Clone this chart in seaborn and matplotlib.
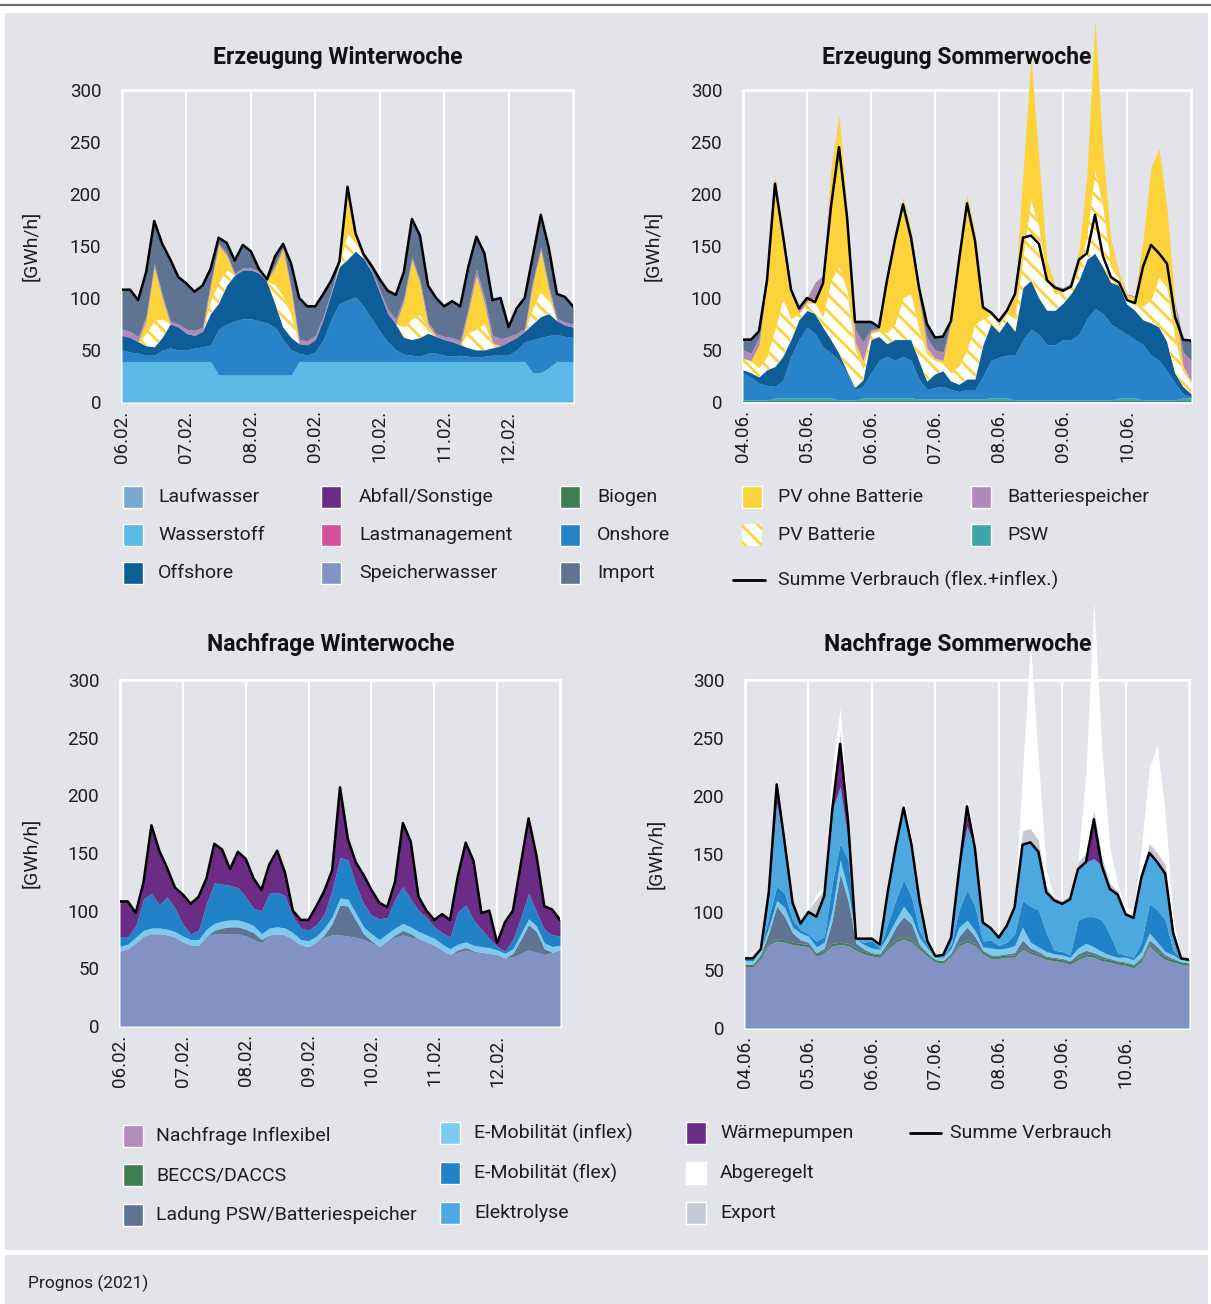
import numpy as np
import pandas as pd
import matplotlib.pyplot as plt
import matplotlib.dates as mdates
from matplotlib.patches import Rectangle
from matplotlib.lines import Line2D
import seaborn as sns

W, H = 1211, 1304

# 3-hourly values in GWh/h (one week per chart)
winter_time = pd.date_range('2021-02-06', periods=57, freq='3h')
summer_time = pd.date_range('2021-06-04', periods=57, freq='3h')

# Summe Verbrauch (same series in generation and demand charts)
winter_total = [108, 108, 98, 125, 174, 152, 137, 120, 114, 106, 112, 128, 158, 153, 136, 151, 145, 128, 118, 140,
                152, 133, 100, 92, 92, 104, 117, 135, 207, 162, 142, 131, 118, 107, 103, 125, 176, 160, 112, 100,
                92, 97, 92, 130, 159, 143, 98, 100, 72, 90, 100, 140, 180, 148, 104, 101, 92]
summer_total = [60, 60, 68, 117, 210, 160, 108, 90, 100, 96, 114, 188, 245, 178, 77, 77, 77, 72, 117, 156,
                190, 158, 110, 75, 62, 63, 78, 136, 191, 155, 91, 86, 78, 88, 104, 158, 160, 152, 117, 110,
                107, 111, 137, 143, 180, 140, 120, 115, 98, 95, 130, 151, 143, 133, 82, 60, 59]

# Erzeugung Winterwoche
w_wasserstoff = [39, 39, 39, 39, 39, 39, 39, 39, 39, 39, 39, 39, 26, 26, 26, 26, 26, 26, 26, 26,
                 26, 26, 39, 39, 39, 39, 39, 39, 39, 39, 39, 39, 39, 39, 39, 39, 39, 39, 39, 39,
                 39, 39, 39, 39, 39, 39, 39, 39, 39, 39, 39, 28, 28, 33, 39, 39, 39]
w_onshore = [11, 9, 8, 6, 6, 11, 13, 11, 11, 13, 14, 16, 44, 49, 52, 54, 54, 52, 50, 46,
             34, 24, 8, 6, 9, 21, 41, 56, 59, 62, 53, 41, 29, 19, 11, 7, 6, 5, 8, 8,
             6, 5, 6, 5, 4, 5, 6, 6, 6, 11, 19, 32, 34, 31, 26, 24, 23]
w_offshore = [14, 14, 11, 9, 8, 12, 23, 22, 16, 12, 15, 30, 25, 37, 44, 47, 47, 46, 40, 23,
              12, 12, 9, 10, 12, 20, 25, 35, 39, 44, 46, 45, 37, 27, 25, 16, 15, 18, 19, 16,
              15, 14, 10, 8, 7, 6, 7, 9, 13, 12, 10, 15, 20, 21, 13, 11, 10]
w_pv_batt = [0, 0, 0, 12, 25, 18, 0, 0, 0, 0, 0, 12, 20, 15, 0, 0, 0, 0, 0, 18,
             30, 22, 0, 0, 0, 0, 0, 3, 25, 8, 0, 0, 0, 0, 0, 10, 20, 22, 5, 0,
             0, 0, 0, 15, 20, 25, 4, 0, 0, 0, 0, 15, 25, 15, 0, 0, 0]
w_pv = [0, 0, 0, 13, 52, 20, 0, 0, 0, 0, 0, 15, 36, 14, 0, 0, 0, 0, 0, 17,
        45, 23, 0, 0, 0, 0, 0, 0, 40, 7, 0, 0, 0, 0, 0, 25, 57, 30, 3, 0,
        0, 0, 0, 20, 52, 20, 1, 0, 0, 0, 0, 24, 39, 8, 0, 0, 0]
w_batt = [6, 6, 5, 4, 3, 3, 3, 3, 4, 5, 4, 3, 2, 2, 2, 2, 2, 2, 2, 2,
          3, 3, 4, 4, 4, 3, 2, 2, 2, 2, 2, 2, 3, 4, 5, 4, 3, 3, 3, 3,
          3, 4, 4, 5, 6, 6, 7, 7, 5, 4, 3, 3, 3, 3, 3, 3, 3]
w_import = [38, 40, 35, 42, 41, 49, 59, 45, 44, 37, 40, 13, 5, 10, 12, 22, 16, 2, 0, 8,
            2, 23, 40, 33, 28, 21, 10, 0, 3, 0, 2, 4, 10, 18, 23, 24, 36, 43, 35, 34,
            29, 35, 33, 38, 31, 42, 34, 39, 9, 24, 29, 23, 31, 37, 23, 24, 17]

# Erzeugung Sommerwoche
s_biogen = [1, 1, 1, 1, 1, 1, 1, 1, 1, 1, 1, 1, 1, 1, 1, 1, 1, 1, 1, 1,
            1, 1, 1, 1, 1, 1, 1, 1, 1, 1, 1, 1, 1, 1, 1, 1, 1, 1, 1, 1,
            1, 1, 1, 1, 1, 1, 1, 1, 1, 1, 1, 1, 1, 1, 1, 1, 1]
s_psw = [1, 1, 1, 1, 3, 3, 3, 3, 3, 3, 3, 3, 1, 1, 1, 3, 3, 3, 3, 3,
         3, 3, 2, 2, 2, 2, 2, 2, 2, 2, 2, 3, 3, 3, 1, 1, 1, 1, 1, 1,
         1, 1, 1, 1, 1, 1, 1, 3, 3, 3, 1, 1, 1, 1, 1, 3, 3]
s_onshore = [26, 22, 16, 14, 11, 17, 40, 56, 68, 62, 49, 43, 38, 26, 10, 11, 24, 36, 40, 36,
             40, 36, 19, 9, 11, 12, 9, 7, 9, 9, 22, 36, 39, 41, 43, 58, 68, 63, 53, 53,
             58, 58, 63, 78, 88, 83, 73, 66, 61, 56, 53, 43, 38, 28, 16, 4, 1]
s_offshore = [3, 4, 6, 15, 19, 23, 16, 19, 16, 19, 19, 13, 7, 2, 2, 6, 32, 23, 12, 20,
              16, 20, 18, 8, 13, 15, 8, 7, 10, 10, 30, 35, 24, 33, 23, 50, 47, 35, 33, 33,
              35, 44, 52, 57, 53, 45, 40, 42, 29, 28, 24, 31, 32, 28, 10, 7, 3]
s_pv_batt = [11, 11, 9, 13, 36, 56, 20, 6, 7, 10, 10, 57, 83, 78, 38, 11, 6, 5, 11, 15,
             40, 45, 30, 26, 13, 7, 8, 18, 28, 53, 25, 9, 7, 7, 12, 30, 77, 68, 29, 16,
             11, 6, 11, 23, 80, 58, 15, 6, 7, 8, 13, 22, 48, 52, 34, 15, 10]
s_pv = [0, 1, 22, 71, 148, 65, 28, 1, 2, 5, 36, 108, 146, 77, 6, 8, 2, 2, 52, 83,
        97, 60, 30, 6, 2, 3, 50, 103, 149, 87, 12, 2, 2, 2, 25, 80, 138, 64, 19, 7,
        2, 3, 17, 60, 145, 52, 26, 6, 2, 5, 64, 127, 124, 75, 33, 5, 2]
s_batt = [8, 7, 7, 0, 0, 0, 2, 3, 2, 15, 4, 0, 0, 0, 12, 18, 2, 1, 0, 0,
          0, 0, 0, 10, 8, 8, 0, 0, 0, 0, 1, 1, 1, 1, 0, 0, 0, 0, 0, 1,
          2, 1, 0, 0, 0, 0, 0, 0, 1, 1, 0, 0, 0, 0, 0, 13, 20]
s_import = [10, 13, 6, 2, 0, 0, 0, 1, 1, 0, 0, 0, 0, 0, 7, 19, 7, 1, 0, 0,
            0, 0, 10, 13, 12, 15, 0, 0, 0, 0, 0, 0, 1, 0, 0, 0, 0, 0, 0, 0,
            0, 0, 0, 0, 0, 0, 0, 0, 0, 0, 0, 0, 0, 0, 0, 12, 19]

# Nachfrage Winterwoche
wd_inflex = [65, 67, 72, 78, 80, 80, 79, 77, 73, 70, 70, 78, 80, 80, 80, 80, 78, 75, 72, 79,
             80, 79, 75, 70, 69, 73, 77, 79, 79, 78, 77, 75, 72, 69, 74, 77, 79, 77, 76, 73,
             70, 66, 62, 64, 66, 64, 64, 63, 62, 59, 60, 63, 66, 64, 62, 64, 66]
wd_ladung = [0, 0, 0, 0, 0, 0, 0, 0, 0, 0, 0, 0, 3, 5, 6, 6, 6, 6, 3, 0,
             0, 0, 0, 0, 0, 0, 2, 10, 26, 26, 15, 5, 2, 0, 0, 2, 4, 3, 0, 0,
             0, 0, 0, 2, 2, 1, 0, 0, 0, 0, 3, 12, 22, 18, 5, 0, 0]
wd_emob_inflex = [4, 4, 5, 5, 5, 5, 5, 5, 5, 5, 5, 6, 6, 6, 6, 6, 6, 6, 5, 6,
                  6, 6, 6, 5, 5, 5, 6, 6, 6, 6, 6, 6, 6, 6, 6, 6, 6, 6, 6, 6,
                  6, 5, 5, 5, 5, 5, 5, 5, 4, 4, 4, 5, 5, 5, 5, 5, 4]
wd_emob_flex = [8, 6, 10, 27, 30, 20, 28, 20, 10, 5, 8, 22, 35, 32, 30, 28, 22, 15, 20, 30,
                30, 28, 14, 10, 9, 10, 12, 23, 35, 34, 25, 20, 16, 18, 14, 25, 32, 24, 18, 15,
                10, 10, 10, 28, 32, 22, 15, 8, 3, 2, 8, 14, 22, 12, 12, 10, 8]
wd_waermepumpen = [31, 31, 11, 15, 59, 47, 25, 18, 26, 26, 29, 22, 34, 30, 14, 31, 33, 26, 18, 25,
                   36, 20, 5, 7, 9, 16, 20, 17, 61, 18, 19, 25, 22, 14, 9, 15, 55, 50, 12, 6,
                   6, 16, 15, 31, 54, 51, 14, 24, 3, 25, 25, 46, 65, 49, 20, 22, 14]
wd_export = [0, 0, 0, 0, 0, 0, 0, 0, 0, 0, 0, 0, 0, 0, 0, 0, 0, 0, 0, 0,
             0, 0, 0, 0, 0, 0, 0, 0, 2, 5, 3, 0, 0, 0, 0, 0, 0, 0, 0, 0,
             0, 0, 0, 0, 0, 0, 0, 0, 0, 0, 0, 0, 0, 0, 0, 0, 0]

# Nachfrage Sommerwoche
sd_inflex = [53, 53, 60, 72, 75, 74, 72, 71, 70, 62, 65, 71, 72, 71, 67, 64, 62, 61, 68, 74,
             77, 74, 68, 62, 57, 56, 62, 71, 74, 71, 64, 60, 60, 61, 61, 68, 64, 62, 59, 58,
             57, 55, 59, 62, 61, 58, 57, 55, 54, 52, 57, 71, 64, 59, 57, 55, 54]
sd_beccs = [2, 2, 2, 2, 2, 2, 2, 2, 2, 2, 2, 2, 2, 2, 2, 2, 2, 2, 2, 2,
            2, 2, 2, 2, 2, 2, 2, 2, 2, 2, 2, 2, 2, 2, 2, 2, 2, 2, 2, 2,
            2, 2, 2, 2, 2, 2, 2, 2, 2, 2, 2, 2, 2, 2, 2, 2, 2]
sd_ladung = [0, 0, 2, 8, 28, 20, 8, 3, 2, 1, 2, 20, 59, 37, 4, 2, 1, 1, 4, 11,
             17, 14, 2, 1, 0, 0, 1, 6, 11, 6, 1, 1, 1, 1, 2, 6, 3, 2, 1, 1,
             1, 1, 3, 3, 2, 2, 1, 1, 1, 1, 2, 3, 4, 2, 1, 0, 0]
sd_emob_inflex = [3, 3, 4, 5, 5, 8, 5, 6, 5, 5, 5, 9, 12, 9, 4, 4, 4, 4, 6, 6,
                  9, 6, 6, 4, 2, 3, 4, 8, 6, 5, 3, 6, 5, 5, 6, 11, 5, 4, 4, 3,
                  3, 3, 5, 6, 5, 4, 3, 3, 4, 4, 5, 6, 4, 3, 3, 2, 2]
sd_emob_flex = [2, 1, 0, 9, 12, 12, 6, 3, 2, 5, 5, 23, 14, 26, 0, 2, 6, 1, 10, 17,
                23, 17, 6, 2, 1, 1, 3, 15, 26, 21, 5, 7, 3, 5, 10, 23, 31, 32, 16, 3,
                3, 2, 24, 23, 26, 27, 18, 4, 2, 2, 8, 25, 28, 27, 4, 1, 1]
sd_elektrolyse = [0, 1, 0, 21, 72, 44, 15, 5, 19, 21, 35, 63, 49, 17, 0, 3, 2, 3, 27, 46,
                  62, 45, 26, 4, 0, 1, 6, 34, 55, 50, 16, 10, 7, 14, 23, 48, 55, 50, 35, 43,
                  41, 48, 44, 47, 50, 47, 39, 50, 35, 34, 56, 44, 41, 40, 15, 0, 0]
sd_waermepumpen = [0, 0, 0, 0, 16, 0, 0, 0, 0, 0, 0, 0, 37, 16, 0, 0, 0, 0, 0, 0,
                   0, 0, 0, 0, 0, 0, 0, 0, 17, 0, 0, 0, 0, 0, 0, 0, 0, 0, 0, 0,
                   0, 0, 0, 0, 34, 0, 0, 0, 0, 0, 0, 0, 0, 0, 0, 0, 0]
sd_export = [0, 0, 0, 2, 5, 4, 2, 1, 2, 15, 6, 8, 10, 5, 2, 0, 0, 0, 2, 3,
             3, 3, 2, 0, 0, 0, 0, 2, 3, 3, 1, 0, 0, 0, 2, 12, 12, 10, 5, 2,
             3, 3, 6, 8, 8, 8, 5, 3, 2, 2, 5, 8, 8, 8, 3, 0, 0]
sd_abgeregelt = [0, 0, 0, 0, 3, 1, 0, 0, 0, 4, 2, 29, 21, 2, 0, 0, 0, 0, 0, 0,
                 4, 4, 0, 0, 0, 0, 0, 0, 5, 4, 1, 0, 0, 0, 0, 50, 160, 70, 14, 0,
                 0, 0, 2, 69, 180, 92, 31, 6, 4, 5, 21, 66, 93, 44, 10, 0, 0]

# colours
BG = '#e2e4e9'
PV_YELLOW = '#fcd33b'
col = {
    'Laufwasser': '#7aa6d2', 'Wasserstoff': '#5cb9e7', 'Offshore': '#0c5d98',
    'Abfall/Sonstige': '#6b2c86', 'Lastmanagement': '#d64f9a', 'Speicherwasser': '#8393c5',
    'Biogen': '#3f7d52', 'Onshore': '#2983c8', 'Import': '#5f7393',
    'PV ohne Batterie': PV_YELLOW, 'PV Batterie': 'white', 'Batteriespeicher': '#b088b9',
    'PSW': '#3ba7a8',
    'Nachfrage Inflexibel': '#b48bbb', 'Inflex area': '#8392c4', 'BECCS/DACCS': '#3f7d52',
    'Ladung PSW/Batteriespeicher': '#5f7393', 'E-Mobilität (inflex)': '#7ccaf0',
    'E-Mobilität (flex)': '#2282c8', 'Elektrolyse': '#4da8e0', 'Wärmepumpen': '#6b2c86',
    'Abgeregelt': 'white', 'Export': '#c3c9d6',
}

sns.set_theme(style='white', rc={'axes.facecolor': BG})
plt.rcParams['font.family'] = ['Roboto', 'DejaVu Sans']
plt.rcParams['hatch.linewidth'] = 2.0
plt.rcParams['hatch.color'] = PV_YELLOW


def px(x, y):
    return x / W, 1 - y / H


def panel(ax, t, layers, colors, total, title, hatches=None, title_pad=19):
    polys = ax.stackplot(t, *layers, colors=colors, hatch=hatches, linewidth=0)
    for i, p in enumerate(polys):
        p.set_clip_on(False)
        p.set_antialiased(True)
        if hatches and hatches[i]:
            p.set_edgecolor(PV_YELLOW)
            p.set_linewidth(0)
    sns.lineplot(x=t, y=total, color='black', linewidth=1.8, ax=ax, zorder=5)
    ax.set_xlim(t[0], t[-1])
    ax.set_ylim(0, 300)
    ax.set_yticks(range(0, 301, 50))
    ax.set_xticks(t[::8][:7])
    ax.xaxis.set_major_formatter(mdates.DateFormatter('%d.%m.'))
    ax.tick_params(axis='x', labelrotation=90, length=0, labelsize=13.5, pad=6)
    ax.tick_params(axis='y', length=0, labelsize=13.5, pad=15)
    ax.grid(axis='x', color='white', linewidth=1.6)
    ax.grid(axis='y', visible=False)
    ax.set_axisbelow(True)
    for sp in ax.spines.values():
        sp.set_color('white')
        sp.set_linewidth(2)
        sp.set_zorder(0.9)
    ax.set_xlabel('')
    ax.set_ylabel('[GWh/h]', fontsize=14, color='#1e1e1e')
    ax.yaxis.set_label_coords(-0.18, 0.5)
    ax.set_title(title, fontsize=16.5, fontweight='bold', x=0.478, pad=title_pad, color='#111111')
    for lab in ax.get_xticklabels() + ax.get_yticklabels():
        lab.set_color('#1e1e1e')


fig = plt.figure(figsize=(W / 100, H / 100), dpi=100, facecolor='white')

# background panels and top rule
fig.add_artist(Rectangle(px(5, 1250), 1203 / W, 1237 / H, transform=fig.transFigure,
                         facecolor=BG, edgecolor='none', zorder=-5))
fig.add_artist(Rectangle(px(5, 1304), 1203 / W, 49 / H, transform=fig.transFigure,
                         facecolor=BG, edgecolor='none', zorder=-5))
fig.add_artist(Line2D([0, 1], [1 - 4.5 / H] * 2, transform=fig.transFigure,
                      color='#6d6e70', linewidth=1.6))

ax_wg = fig.add_axes([122 / W, 1 - 402 / H, 451 / W, 312 / H])
ax_sg = fig.add_axes([743 / W, 1 - 402 / H, 448 / W, 312 / H])
ax_wd = fig.add_axes([120 / W, 1 - 1026 / H, 440 / W, 346 / H])
ax_sd = fig.add_axes([745 / W, 1 - 1028 / H, 444 / W, 348 / H])

gen_hatch = '\\\\'
panel(ax_wg, winter_time,
      [w_wasserstoff, w_onshore, w_offshore, w_pv_batt, w_pv, w_batt, w_import],
      [col['Wasserstoff'], col['Onshore'], col['Offshore'], col['PV Batterie'],
       col['PV ohne Batterie'], col['Batteriespeicher'], col['Import']],
      winter_total, 'Erzeugung Winterwoche',
      hatches=[None, None, None, gen_hatch, None, None, None])
panel(ax_sg, summer_time,
      [s_biogen, s_psw, s_onshore, s_offshore, s_pv_batt, s_pv, s_batt, s_import],
      [col['Biogen'], col['PSW'], col['Onshore'], col['Offshore'], col['PV Batterie'],
       col['PV ohne Batterie'], col['Batteriespeicher'], col['Import']],
      summer_total, 'Erzeugung Sommerwoche',
      hatches=[None, None, None, None, gen_hatch, None, None, None])
panel(ax_wd, winter_time,
      [wd_inflex, wd_ladung, wd_emob_inflex, wd_emob_flex, wd_waermepumpen, wd_export],
      [col['Inflex area'], col['Ladung PSW/Batteriespeicher'], col['E-Mobilität (inflex)'],
       col['E-Mobilität (flex)'], col['Wärmepumpen'], col['Export']],
      winter_total, 'Nachfrage Winterwoche', title_pad=21)
panel(ax_sd, summer_time,
      [sd_inflex, sd_beccs, sd_ladung, sd_emob_inflex, sd_emob_flex, sd_elektrolyse,
       sd_waermepumpen, sd_export, sd_abgeregelt],
      [col['Inflex area'], col['BECCS/DACCS'], col['Ladung PSW/Batteriespeicher'],
       col['E-Mobilität (inflex)'], col['E-Mobilität (flex)'], col['Elektrolyse'],
       col['Wärmepumpen'], col['Export'], col['Abgeregelt']],
      summer_total, 'Nachfrage Sommerwoche', title_pad=21)


def key_box(x, y, name, hatch=None):
    w, h = 20, 22
    if hatch:
        patch = Rectangle(px(x, y + h / 2), w / W, h / H, transform=fig.transFigure,
                          facecolor='white', edgecolor=PV_YELLOW, linewidth=0, hatch=hatch)
    else:
        patch = Rectangle(px(x, y + h / 2), w / W, h / H, transform=fig.transFigure,
                          facecolor=col[name], edgecolor='white', linewidth=1.0)
    fig.add_artist(patch)


def key_text(x, y, s):
    fig.text(*px(x, y), s, fontsize=14, va='center', ha='left', color='#1e1e1e')


def key_line(x0, x1, y):
    fig.add_artist(Line2D([x0 / W, x1 / W], [1 - y / H] * 2, transform=fig.transFigure,
                          color='black', linewidth=2))


# legend generation
gen_cols = [(123, 158, ['Laufwasser', 'Wasserstoff', 'Offshore']),
            (321, 359, ['Abfall/Sonstige', 'Lastmanagement', 'Speicherwasser']),
            (560, 597, ['Biogen', 'Onshore', 'Import']),
            (742, 778, ['PV ohne Batterie', 'PV Batterie']),
            (971, 1007, ['Batteriespeicher', 'PSW'])]
for hx, tx, names in gen_cols:
    for name, y in zip(names, [497, 535, 573]):
        key_box(hx, y, name, hatch=gen_hatch if name == 'PV Batterie' else None)
        key_text(tx, y, name)
key_line(733, 765, 580)
key_text(778, 580, 'Summe Verbrauch (flex.+inflex.)')

# legend demand
dem_cols = [(123, 156, ['Nachfrage Inflexibel', 'BECCS/DACCS', 'Ladung PSW/Batteriespeicher'], [1136, 1175, 1215]),
            (440, 474, ['E-Mobilität (inflex)', 'E-Mobilität (flex)', 'Elektrolyse'], [1133, 1173, 1213]),
            (686, 720, ['Wärmepumpen', 'Abgeregelt', 'Export'], [1133, 1173, 1213])]
for hx, tx, names, ys in dem_cols:
    for name, y in zip(names, ys):
        key_box(hx, y, name)
        key_text(tx, y, name)
key_line(910, 941, 1133)
key_text(950, 1133, 'Summe Verbrauch')

fig.text(*px(28, 1283), 'Prognos (2021)', fontsize=12.5, va='center', ha='left', color='#1e1e1e')

fig.savefig('out.png', dpi=100, facecolor='white')
